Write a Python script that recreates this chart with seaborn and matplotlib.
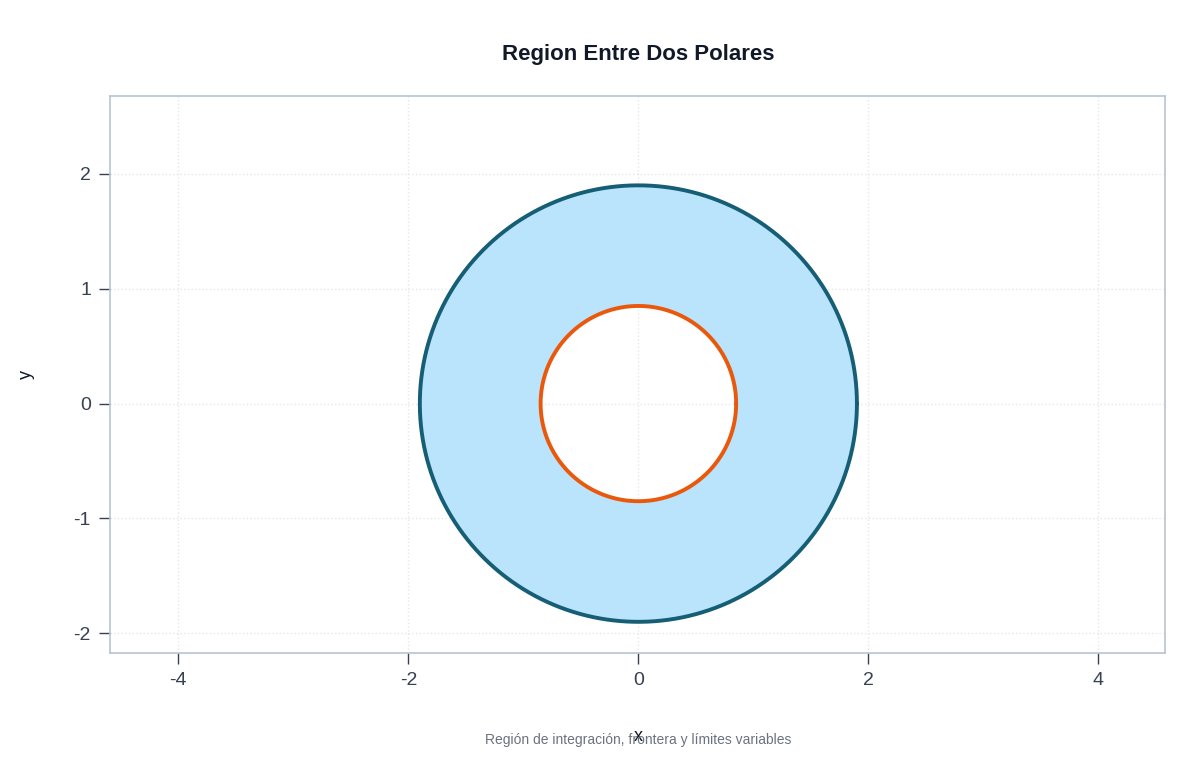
import numpy as np
import matplotlib
matplotlib.use("Agg")
import matplotlib.pyplot as plt
import seaborn as sns

# Polar curves: r = constant radii
r_inner = 0.85
r_outer = 1.9
x_ticks = [-4, -2, 0, 2, 4]
y_ticks = [-2, -1, 0, 1, 2]

sns.set_theme(style="white")
plt.rcParams["font.family"] = ["Liberation Sans", "DejaVu Sans"]
plt.rcParams["axes.unicode_minus"] = False

theta = np.linspace(0, 2 * np.pi, 400)
xo, yo = r_outer * np.cos(theta), r_outer * np.sin(theta)
xi, yi = r_inner * np.cos(theta), r_inner * np.sin(theta)

fig = plt.figure(figsize=(12, 7.6), dpi=100)
ax = fig.add_axes([0.092, 0.141, 0.879, 0.733])

# annulus fill
ax.fill(np.concatenate([xo, xi[::-1]]), np.concatenate([yo, yi[::-1]]),
        color="#bae4fb", lw=0)
sns.lineplot(x=xo, y=yo, sort=False, estimator=None, color="#155e75", lw=2.8, ax=ax)
sns.lineplot(x=xi, y=yi, sort=False, estimator=None, color="#ea580c", lw=2.8, ax=ax)

ax.set_xlim(-4.59, 4.58)
ax.set_ylim(-2.17, 2.68)
ax.set_xticks(x_ticks)
ax.set_yticks(y_ticks)
ax.grid(True, color="#e5e7eb", ls=":", lw=1)
for s in ax.spines.values():
    s.set_color("#b8c4d6")
    s.set_linewidth(1.2)
ax.tick_params(axis="both", direction="out", length=8, width=1, bottom=True, left=True,
               color="#374151", labelcolor="#374151", labelsize=14, pad=6)
ax.set_xlabel("x", fontsize=13, color="#111827", labelpad=28)
ax.set_ylabel("y", fontsize=13, color="#111827", labelpad=28)
ax.set_title("Region Entre Dos Polares", fontsize=16, fontweight="bold",
             color="#111827", pad=26)
fig.text(0.532, 0.021, "Región de integración, frontera y límites variables",
         ha="center", fontsize=10, color="#6b7280")

fig.savefig("out.png", dpi=100)
